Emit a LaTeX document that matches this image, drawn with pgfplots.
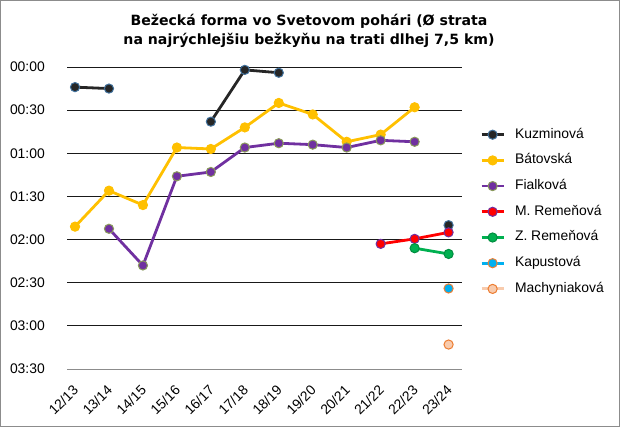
\documentclass[border=0pt]{standalone}
\usepackage{fontspec}
\setmainfont{Liberation Sans}
\newfontfamily\titlefont{DejaVu Sans}
\usepackage{pgfplots}
\pgfplotsset{compat=1.18}
\definecolor{kuz}{HTML}{262626}
\definecolor{kuzo}{HTML}{41719C}
\definecolor{bat}{HTML}{FFC000}
\definecolor{fia}{HTML}{7030A0}
\definecolor{fiao}{HTML}{8A9A5B}
\definecolor{mre}{HTML}{FF0000}
\definecolor{mreo}{HTML}{7030A0}
\definecolor{zre}{HTML}{00B050}
\definecolor{kap}{HTML}{00B0F0}
\definecolor{kapo}{HTML}{ED7D31}
\definecolor{mac}{HTML}{F8CBAD}
\definecolor{maco}{HTML}{ED7D31}
\begin{document}
\begin{tikzpicture}
\path[use as bounding box] (0,0) rectangle (620pt,427pt);
\draw[black!45, line width=1pt] (0.5pt,0.5pt) rectangle (619.5pt,426.5pt);
\node[align=center, font=\titlefont\fontsize{14.1pt}{19.5pt}\selectfont\bfseries] at (309pt,396pt)
  {Bežecká forma vo Svetovom pohári (Ø strata\\na najrýchlejšiu bežkyňu na trati dlhej 7,5 km)};
\begin{axis}[
  at={(67pt,58pt)}, anchor=south west,
  scale only axis, width=395pt, height=302pt,
  xmin=-0.236, xmax=11.395,
  ymin=0, ymax=210, y dir=reverse,
  axis line style={draw=none},
  tick style={draw=none},
  xtick={0,...,11},
  xticklabels={12/13,13/14,14/15,15/16,16/17,17/18,18/19,19/20,20/21,21/22,22/23,23/24},
  ytick={0,30,...,180},
  yticklabels={00:00,00:30,01:00,01:30,02:00,02:30,03:00},
  extra y ticks={210},
  extra y tick labels={03:30},
  extra y tick style={major grid style={black!45, line width=1pt}},
  ymajorgrids,
  major grid style={black!90, line width=0.9pt},
  tick label style={font=\fontsize{13.9pt}{16pt}\selectfont},
  yticklabel style={anchor=east, inner sep=0pt, xshift=-22pt},
  xticklabel style={rotate=45, anchor=north east, inner sep=0pt, xshift=-12.7pt, yshift=-8.5pt},
  unbounded coords=jump,
  every axis plot/.append style={line width=2.8pt, mark=*, mark size=4.6pt},
  legend cell align=left,
  legend image code/.code={\draw[mark repeat=2,mark phase=2] plot coordinates {(0pt,0pt) (11pt,0pt) (22pt,0pt)};},
  legend style={at={(1,1)}, anchor=north west, xshift=18pt, yshift=-61pt,
    draw=none, fill=none, inner sep=0pt, row sep=12.7pt, column sep=10pt,
    nodes={inner sep=0pt, text height=10pt, text depth=3pt, font=\fontsize{13.9pt}{16pt}\selectfont}},
]
\addplot[color=kuz, mark options={fill=kuz, draw=kuzo, line width=1pt}] coordinates {
 (0,14) (1,15) (2,nan) (4,38) (5,2) (6,4) (7,nan) (11,110)};
\addlegendentry{Kuzminová}
\addplot[color=bat, mark options={fill=bat, draw=bat, line width=1pt}] coordinates {
 (0,111) (1,86) (2,96) (3,56) (4,57) (5,42) (6,25) (7,33) (8,52) (9,47) (10,28)};
\addlegendentry{Bátovská}
\addplot[color=fia, mark options={fill=fia, draw=fiao, line width=1pt}] coordinates {
 (1,112.5) (2,138) (3,76) (4,73) (5,56) (6,53) (7,54) (8,56) (9,51) (10,52)};
\addlegendentry{Fialková}
\addplot[color=mre, mark options={fill=mre, draw=mreo, line width=1pt}] coordinates {
 (9,123) (10,119.5) (11,115)};
\addlegendentry{M. Remeňová}
\addplot[color=zre, mark options={fill=zre, draw=zre!80!black, line width=1pt}] coordinates {
 (10,126) (11,130)};
\addlegendentry{Z. Remeňová}
\addplot[color=kap, mark options={fill=kap, draw=kapo, line width=1pt}] coordinates {
 (11,154)};
\addlegendentry{Kapustová}
\addplot[color=mac, mark options={fill=mac, draw=maco, line width=1pt}] coordinates {
 (11,193)};
\addlegendentry{Machyniaková}
\end{axis}
\end{tikzpicture}
\end{document}
